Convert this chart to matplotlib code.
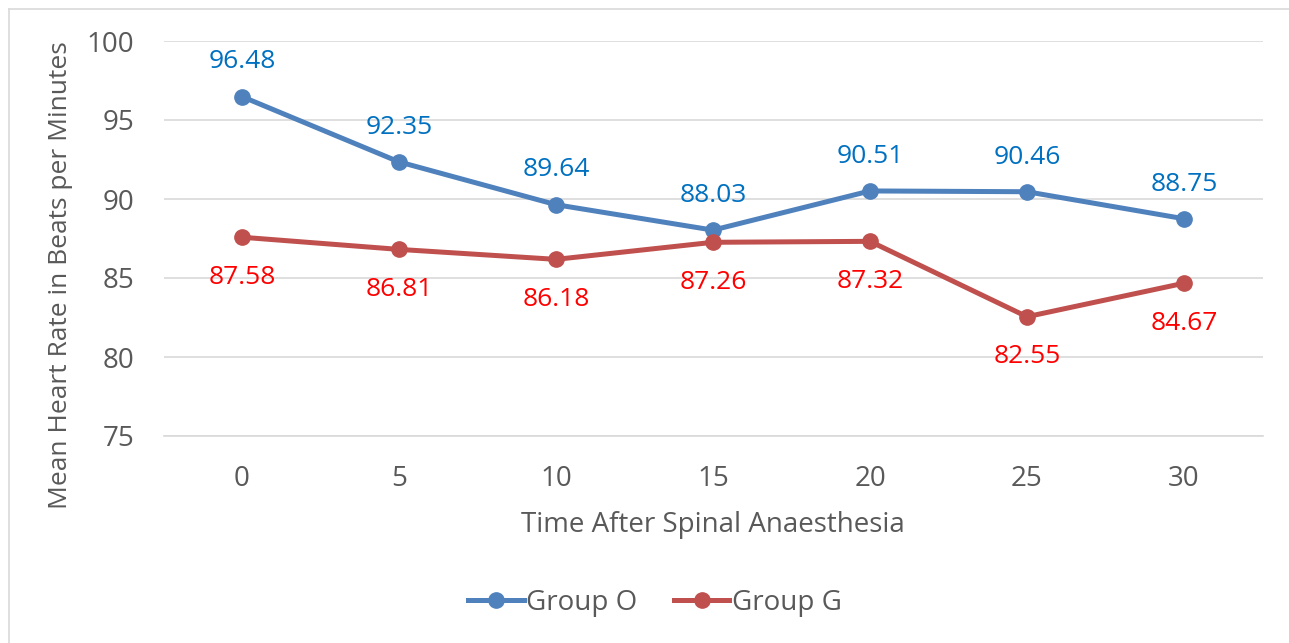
import matplotlib
matplotlib.use("Agg")
import matplotlib.pyplot as plt
from matplotlib.lines import Line2D

plt.rcParams['font.family'] = ['Open Sans', 'DejaVu Sans']

times = ['0', '5', '10', '15', '20', '25', '30']
group_o = [96.48, 92.35, 89.64, 88.03, 90.51, 90.46, 88.75]
group_g = [87.58, 86.81, 86.18, 87.26, 87.32, 82.55, 84.67]
yticks = [75, 80, 85, 90, 95, 100]

W, H = 1289, 643
fig = plt.figure(figsize=(W/100, H/100), dpi=100)
ax = fig.add_axes([163.5/W, 1-436/H, (1262.5-163.5)/W, (436-41)/H])

x = list(range(len(times)))
blue_line, red_line = '#4F81BD', '#C0504D'
blue_txt, red_txt = '#0070C0', '#FF0000'
gray_txt = '#595959'

LW, MS = 3.6, 11
ax.plot(x, group_o, color=blue_line, lw=LW, marker='o', ms=MS, solid_capstyle='round', zorder=3, label='Group O')
ax.plot(x, group_g, color=red_line, lw=LW, marker='o', ms=MS, solid_capstyle='round', zorder=3, label='Group G')

for xi, v in zip(x, group_o):
    ax.annotate(f'{v:.2f}', (xi, v), xytext=(0, 25), textcoords='offset points',
                ha='center', va='center', color=blue_txt, fontsize=19)
for xi, v in zip(x, group_g):
    ax.annotate(f'{v:.2f}', (xi, v), xytext=(0, -29), textcoords='offset points',
                ha='center', va='center', color=red_txt, fontsize=19)

ax.set_xlim(-0.5, len(times) - 0.5)
ax.set_ylim(75, 100)
ax.set_yticks(yticks)
ax.set_xticks(x)
ax.set_xticklabels(times)
ax.grid(axis='y', color='#D9D9D9', lw=1.2)
ax.set_axisbelow(True)
for s in ['top', 'right', 'left']:
    ax.spines[s].set_visible(False)
ax.spines['bottom'].set_color('#D9D9D9')
ax.spines['bottom'].set_linewidth(1.2)
ax.tick_params(axis='both', length=0, labelsize=20, colors=gray_txt)
ax.tick_params(axis='y', pad=21)
ax.tick_params(axis='x', pad=21)

ax.set_xlabel('Time After Spinal Anaesthesia', fontsize=20, color=gray_txt, labelpad=13)
fig.text(61/W, 1-275/H, 'Mean Heart Rate in Beats per Minutes', rotation=90,
         ha='center', va='center', fontsize=19, color=gray_txt)

handles = [Line2D([0], [0], color=blue_line, lw=LW, marker='o', ms=MS),
           Line2D([0], [0], color=red_line, lw=LW, marker='o', ms=MS)]
fig.legend(handles, ['Group O', 'Group G'], loc='center', bbox_to_anchor=(655/W, 1-603/H),
           ncol=2, frameon=False, fontsize=20, handlelength=2.0, handletextpad=0.1,
           columnspacing=1.3, labelcolor=gray_txt)

# outer chart border (left and top visible)
fig.add_artist(Line2D([8.5/W, 8.5/W], [0, 1-8.5/H], color='#D9D9D9', lw=1.2, transform=fig.transFigure))
fig.add_artist(Line2D([8.5/W, 1], [1-8.5/H, 1-8.5/H], color='#D9D9D9', lw=1.2, transform=fig.transFigure))

fig.savefig('out.png', dpi=100, facecolor='white')
